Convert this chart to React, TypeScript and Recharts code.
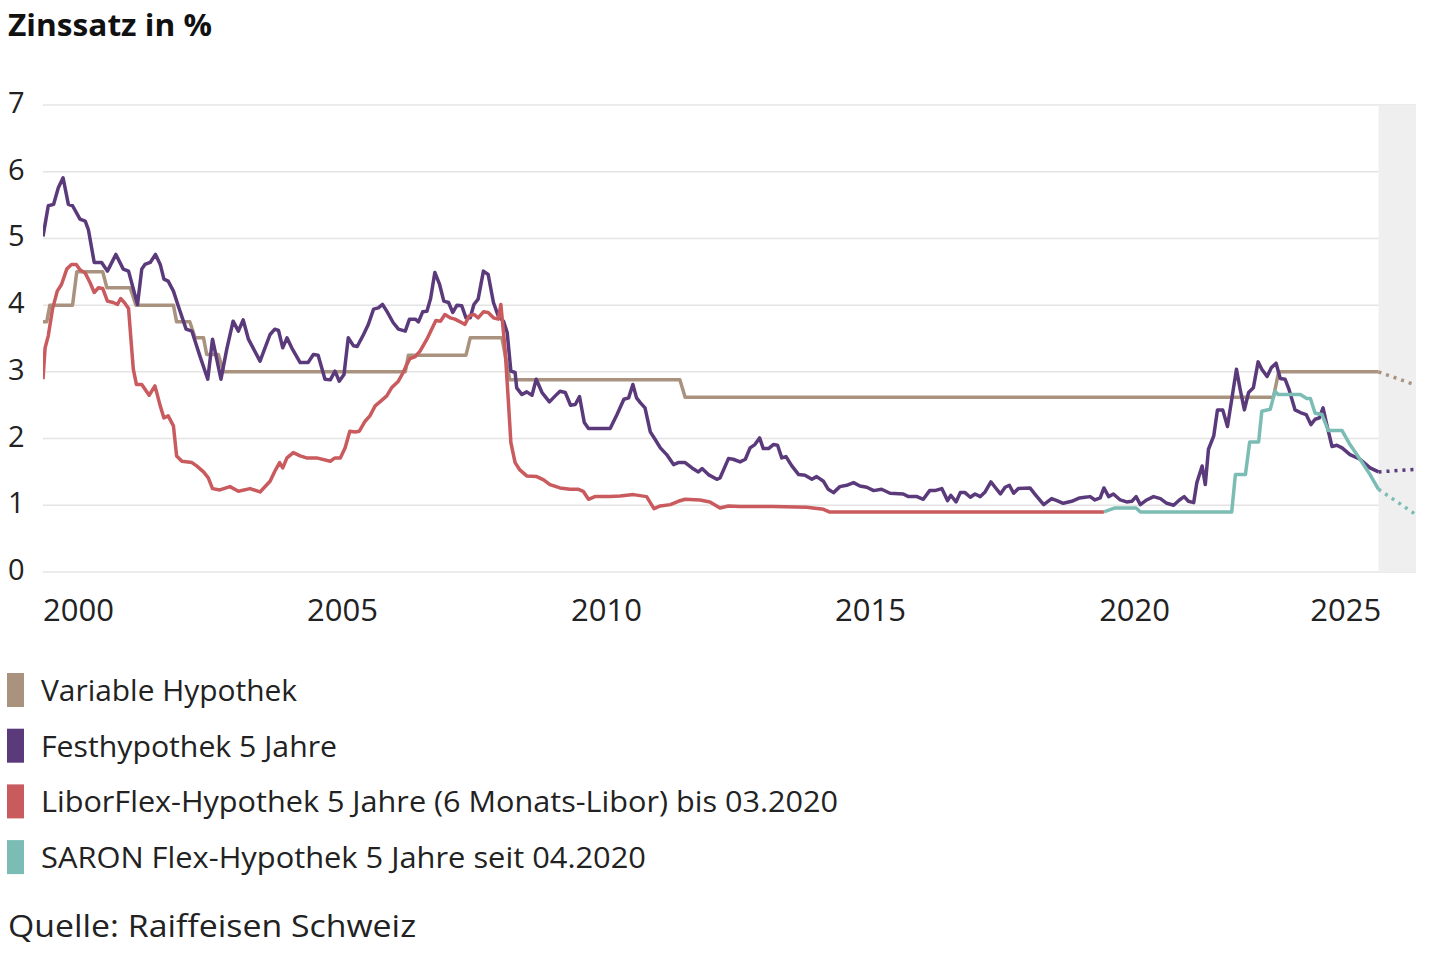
import React from 'react';
import { LineChart, Line, XAxis, YAxis, CartesianGrid, ReferenceArea } from 'recharts';

// [decimal year, rate in %]
const variableHypothek: [number, number][] = [
  [2000.0, 3.75], [2000.07, 3.75], [2000.13, 4.0], [2000.56, 4.0], [2000.64, 4.5], [2001.13, 4.5],
  [2001.21, 4.26], [2001.65, 4.26], [2001.76, 4.0], [2002.47, 4.0], [2002.53, 3.75], [2002.78, 3.75],
  [2002.88, 3.51], [2003.04, 3.51], [2003.1, 3.26], [2003.32, 3.26], [2003.42, 3.0], [2006.86, 3.0],
  [2006.92, 3.25], [2008.01, 3.25], [2008.09, 3.51], [2008.69, 3.51], [2008.84, 2.88], [2012.06, 2.88],
  [2012.16, 2.62], [2023.3, 2.62], [2023.4, 3.0], [2025.29, 3.0],
];
const variableForecast: [number, number][] = [[2025.29, 3.0], [2026.0, 2.8]];

const festhypothek: [number, number][] = [
  [2000.0, 5.03], [2000.1, 5.49], [2000.2, 5.51], [2000.29, 5.76], [2000.38, 5.91], [2000.48, 5.51],
  [2000.56, 5.49], [2000.7, 5.29], [2000.8, 5.26], [2000.86, 5.13], [2000.97, 4.64], [2001.11, 4.64],
  [2001.22, 4.51], [2001.38, 4.76], [2001.52, 4.54], [2001.62, 4.51], [2001.79, 4.01], [2001.87, 4.54],
  [2001.93, 4.61], [2002.03, 4.64], [2002.13, 4.76], [2002.22, 4.61], [2002.29, 4.39], [2002.37, 4.36],
  [2002.47, 4.21], [2002.56, 3.99], [2002.71, 3.64], [2002.82, 3.61], [2002.97, 3.24], [2003.12, 2.89],
  [2003.21, 3.49], [2003.37, 2.89], [2003.48, 3.34], [2003.6, 3.76], [2003.7, 3.61], [2003.79, 3.78],
  [2003.89, 3.49], [2004.11, 3.16], [2004.3, 3.56], [2004.39, 3.64], [2004.46, 3.62], [2004.54, 3.36],
  [2004.62, 3.51], [2004.71, 3.36], [2004.87, 3.14], [2005.02, 3.14], [2005.12, 3.26], [2005.21, 3.25],
  [2005.34, 2.89], [2005.44, 2.88], [2005.53, 3.01], [2005.61, 2.86], [2005.7, 2.96], [2005.78, 3.51],
  [2005.88, 3.39], [2005.95, 3.38], [2006.07, 3.56], [2006.16, 3.71], [2006.26, 3.94], [2006.35, 3.96],
  [2006.43, 4.01], [2006.51, 3.91], [2006.63, 3.74], [2006.73, 3.64], [2006.86, 3.61], [2006.94, 3.79],
  [2007.05, 3.79], [2007.11, 3.75], [2007.19, 3.9], [2007.27, 3.91], [2007.34, 4.1], [2007.42, 4.49],
  [2007.51, 4.31], [2007.59, 4.06], [2007.68, 4.04], [2007.76, 3.89], [2007.84, 4.0], [2007.93, 3.99],
  [2008.01, 3.81], [2008.09, 3.81], [2008.16, 4.01], [2008.24, 4.09], [2008.34, 4.51], [2008.43, 4.46],
  [2008.53, 4.04], [2008.62, 3.84], [2008.72, 3.76], [2008.79, 3.59], [2008.86, 3.01], [2008.94, 2.99],
  [2008.97, 2.76], [2009.07, 2.66], [2009.16, 2.7], [2009.26, 2.65], [2009.34, 2.89], [2009.45, 2.69],
  [2009.59, 2.55], [2009.7, 2.64], [2009.79, 2.71], [2009.89, 2.69], [2009.99, 2.5], [2010.08, 2.51],
  [2010.16, 2.63], [2010.25, 2.24], [2010.33, 2.15], [2010.74, 2.15], [2010.87, 2.36], [2011.0, 2.59],
  [2011.09, 2.61], [2011.17, 2.81], [2011.24, 2.61], [2011.31, 2.54], [2011.4, 2.46], [2011.5, 2.1],
  [2011.59, 1.99], [2011.69, 1.86], [2011.81, 1.76], [2011.94, 1.61], [2012.03, 1.64], [2012.16, 1.64],
  [2012.29, 1.56], [2012.41, 1.5], [2012.48, 1.55], [2012.6, 1.46], [2012.76, 1.39], [2012.82, 1.41],
  [2012.98, 1.7], [2013.07, 1.69], [2013.2, 1.65], [2013.3, 1.69], [2013.39, 1.86], [2013.48, 1.91],
  [2013.57, 2.01], [2013.64, 1.85], [2013.74, 1.85], [2013.83, 1.91], [2013.91, 1.9], [2013.99, 1.71],
  [2014.07, 1.73], [2014.18, 1.59], [2014.31, 1.46], [2014.43, 1.45], [2014.56, 1.39], [2014.65, 1.43],
  [2014.78, 1.36], [2014.87, 1.24], [2014.97, 1.19], [2015.09, 1.28], [2015.22, 1.3], [2015.35, 1.34],
  [2015.47, 1.29], [2015.6, 1.27], [2015.73, 1.22], [2015.88, 1.24], [2016.04, 1.18], [2016.29, 1.17],
  [2016.39, 1.13], [2016.55, 1.13], [2016.67, 1.09], [2016.79, 1.22], [2016.89, 1.22], [2017.02, 1.25],
  [2017.13, 1.07], [2017.19, 1.15], [2017.29, 1.05], [2017.37, 1.19], [2017.46, 1.19], [2017.56, 1.12],
  [2017.65, 1.17], [2017.75, 1.13], [2017.84, 1.2], [2017.95, 1.35], [2018.03, 1.27], [2018.13, 1.17],
  [2018.22, 1.27], [2018.3, 1.3], [2018.38, 1.18], [2018.47, 1.25], [2018.69, 1.26], [2018.79, 1.16],
  [2018.95, 1.01], [2019.1, 1.1], [2019.2, 1.07], [2019.32, 1.03], [2019.48, 1.06], [2019.63, 1.11],
  [2019.73, 1.12], [2019.83, 1.13], [2019.92, 1.08], [2020.02, 1.11], [2020.09, 1.26], [2020.18, 1.13],
  [2020.27, 1.17], [2020.4, 1.08], [2020.52, 1.05], [2020.62, 1.06], [2020.7, 1.13], [2020.78, 1.01],
  [2020.9, 1.08], [2021.03, 1.13], [2021.16, 1.1], [2021.28, 1.03], [2021.41, 1.0], [2021.52, 1.08],
  [2021.61, 1.13], [2021.69, 1.06], [2021.79, 1.04], [2021.85, 1.34], [2021.95, 1.59], [2022.01, 1.31],
  [2022.07, 1.84], [2022.17, 2.04], [2022.24, 2.43], [2022.34, 2.43], [2022.43, 2.18], [2022.6, 3.04],
  [2022.67, 2.74], [2022.75, 2.43], [2022.83, 2.69], [2022.92, 2.76], [2023.01, 3.15], [2023.08, 3.04],
  [2023.18, 2.93], [2023.26, 3.06], [2023.35, 3.13], [2023.43, 2.9], [2023.52, 2.89], [2023.59, 2.75],
  [2023.65, 2.59], [2023.71, 2.43], [2023.81, 2.39], [2023.92, 2.36], [2024.01, 2.21], [2024.09, 2.29],
  [2024.17, 2.31], [2024.24, 2.46], [2024.31, 2.21], [2024.41, 1.88], [2024.5, 1.9], [2024.6, 1.86],
  [2024.75, 1.76], [2024.94, 1.69], [2025.13, 1.56], [2025.29, 1.5],
];
const festForecast: [number, number][] = [[2025.29, 1.5], [2026.0, 1.54]];

const liborFlex: [number, number][] = [
  [2000.0, 2.89], [2000.04, 3.36], [2000.1, 3.54], [2000.18, 3.94], [2000.27, 4.21], [2000.35, 4.31],
  [2000.45, 4.54], [2000.54, 4.61], [2000.63, 4.61], [2000.7, 4.53], [2000.8, 4.48], [2000.89, 4.34],
  [2000.97, 4.19], [2001.05, 4.26], [2001.13, 4.25], [2001.22, 4.06], [2001.33, 4.04], [2001.41, 4.01],
  [2001.47, 4.1], [2001.55, 4.03], [2001.62, 3.95], [2001.68, 3.34], [2001.71, 3.04], [2001.77, 2.81],
  [2001.87, 2.81], [2002.01, 2.65], [2002.12, 2.79], [2002.22, 2.49], [2002.29, 2.31], [2002.37, 2.34],
  [2002.47, 2.19], [2002.53, 1.74], [2002.63, 1.66], [2002.82, 1.64], [2002.91, 1.59], [2003.04, 1.5],
  [2003.13, 1.41], [2003.21, 1.25], [2003.35, 1.23], [2003.54, 1.28], [2003.7, 1.21], [2003.92, 1.25],
  [2004.11, 1.2], [2004.3, 1.36], [2004.39, 1.51], [2004.48, 1.64], [2004.54, 1.56], [2004.62, 1.71],
  [2004.74, 1.79], [2004.87, 1.74], [2004.99, 1.71], [2005.18, 1.71], [2005.44, 1.66], [2005.53, 1.71],
  [2005.63, 1.71], [2005.72, 1.86], [2005.81, 2.11], [2005.91, 2.1], [2005.99, 2.11], [2006.1, 2.26],
  [2006.19, 2.34], [2006.29, 2.49], [2006.38, 2.55], [2006.51, 2.64], [2006.6, 2.76], [2006.73, 2.86],
  [2006.82, 2.99], [2006.89, 3.11], [2006.95, 3.2], [2007.05, 3.23], [2007.14, 3.31], [2007.27, 3.49],
  [2007.36, 3.64], [2007.44, 3.77], [2007.53, 3.76], [2007.61, 3.86], [2007.71, 3.81], [2007.8, 3.79],
  [2007.9, 3.75], [2007.99, 3.71], [2008.07, 3.84], [2008.16, 3.86], [2008.24, 3.81], [2008.34, 3.9],
  [2008.43, 3.89], [2008.53, 3.81], [2008.62, 3.79], [2008.67, 4.01], [2008.75, 3.34], [2008.81, 2.59],
  [2008.86, 1.94], [2008.94, 1.64], [2009.03, 1.53], [2009.16, 1.44], [2009.35, 1.43], [2009.48, 1.38],
  [2009.6, 1.31], [2009.79, 1.26], [2009.98, 1.24], [2010.14, 1.24], [2010.23, 1.21], [2010.33, 1.09],
  [2010.45, 1.13], [2010.74, 1.13], [2010.93, 1.14], [2011.18, 1.16], [2011.43, 1.13], [2011.57, 0.95],
  [2011.69, 0.99], [2011.88, 1.01], [2012.03, 1.06], [2012.16, 1.09], [2012.44, 1.08], [2012.63, 1.05],
  [2012.82, 0.96], [2012.98, 0.99], [2013.2, 0.98], [2013.83, 0.98], [2014.46, 0.97], [2014.78, 0.94],
  [2014.89, 0.9], [2020.09, 0.9],
];

const saronFlex: [number, number][] = [
  [2020.09, 0.9], [2020.3, 0.96], [2020.7, 0.96], [2020.78, 0.9], [2022.51, 0.9], [2022.58, 1.46],
  [2022.77, 1.46], [2022.85, 1.95], [2023.02, 1.95], [2023.08, 2.41], [2023.24, 2.44], [2023.33, 2.71],
  [2023.39, 2.66], [2023.81, 2.66], [2023.93, 2.6], [2024.0, 2.6], [2024.09, 2.38], [2024.22, 2.36],
  [2024.34, 2.12], [2024.6, 2.12], [2024.75, 1.91], [2024.94, 1.69], [2025.13, 1.46], [2025.29, 1.24],
];
const saronForecast: [number, number][] = [[2025.29, 1.24], [2026.0, 0.86]];

const xTicks = [2000, 2005, 2010, 2015, 2020, 2025];
const yTicks = [0, 1, 2, 3, 4, 5, 6, 7];
const forecastRange: [number, number] = [2025.29, 2026];

const legendLabels = [
  'Variable Hypothek',
  'Festhypothek 5 Jahre',
  'LiborFlex-Hypothek 5 Jahre (6 Monats-Libor) bis 03.2020',
  'SARON Flex-Hypothek 5 Jahre seit 04.2020',
];
const legendWidths = [256, 296, 797, 605];
const titleText = 'Zinssatz in %';
const sourceText = 'Quelle: Raiffeisen Schweiz';

const COLORS = ['#a9937e', '#5b3a7c', '#c95a5e', '#7bbdb4'];
const FONT = '"Open Sans", "Noto Sans", sans-serif';
const TEXT = '#222222';

const toRows = (s: [number, number][]) => s.map(([t, v]) => ({ t, v }));

const XTick = (props: any) => {
  const { x, payload } = props;
  const last = payload.value === xTicks[xTicks.length - 1];
  return (
    <text x={last ? x + 18 : x} y={621} textAnchor={last ? 'end' : 'start'} fontSize={31} fill={TEXT} fontFamily={FONT}>
      {payload.value}
    </text>
  );
};

const YTick = (props: any) => {
  const { y, payload } = props;
  return (
    <text x={8} y={y + 8} textAnchor="start" fontSize={29} fill={TEXT} fontFamily={FONT}>
      {payload.value}
    </text>
  );
};

export default function App() {
  const series = [
    { key: 'var', data: toRows(variableHypothek), color: COLORS[0] },
    { key: 'fest', data: toRows(festhypothek), color: COLORS[1] },
    { key: 'libor', data: toRows(liborFlex), color: COLORS[2] },
    { key: 'saron', data: toRows(saronFlex), color: COLORS[3] },
  ];
  const forecasts = [
    { key: 'varF', data: toRows(variableForecast), color: COLORS[0] },
    { key: 'festF', data: toRows(festForecast), color: COLORS[1] },
    { key: 'saronF', data: toRows(saronForecast), color: COLORS[3] },
  ];
  return (
    <div style={{ position: 'absolute', left: 0, top: 0, width: 1440, height: 956, background: '#fff', fontFamily: FONT }}>
      <svg style={{ position: 'absolute', left: 0, top: 0 }} width={1440} height={956}>
        <text x={8} y={36} fontSize={30} fontWeight={700} fill="#111" fontFamily={FONT} textLength={204} lengthAdjust="spacingAndGlyphs">
          {titleText}
        </text>
        {legendLabels.map((label, i) => {
          const base = 701 + i * 55.7;
          return (
            <g key={label}>
              <rect x={7} y={base - 28} width={17} height={34} fill={COLORS[i]} />
              <text x={41} y={base} fontSize={30} fill={TEXT} fontFamily={FONT} textLength={legendWidths[i]} lengthAdjust="spacingAndGlyphs">
                {label}
              </text>
            </g>
          );
        })}
        <text x={8} y={937} fontSize={31} fill={TEXT} fontFamily={FONT} textLength={408} lengthAdjust="spacingAndGlyphs">
          {sourceText}
        </text>
      </svg>
      <div style={{ position: 'absolute', left: 0, top: 0 }}>
        <LineChart width={1440} height={640} margin={{ top: 105, right: 24, left: 0, bottom: 18 }}>
          <ReferenceArea x1={forecastRange[0]} x2={forecastRange[1]} y1={0} y2={7} fill="#efefef" fillOpacity={1} stroke="none" ifOverflow="hidden" />
          <CartesianGrid vertical={false} stroke="#e4e4e4" strokeWidth={1.5} />
          <XAxis
            type="number"
            dataKey="t"
            domain={[2000, 2026]}
            ticks={xTicks}
            allowDataOverflow
            axisLine={false}
            tickLine={false}
            height={50}
            tick={<XTick />}
            interval={0}
          />
          <YAxis
            type="number"
            domain={[0, 7]}
            ticks={yTicks}
            axisLine={false}
            tickLine={false}
            width={43}
            tick={<YTick />}
            interval={0}
          />
          {series.map((s) => (
            <Line
              key={s.key}
              data={s.data}
              dataKey="v"
              type="linear"
              stroke={s.color}
              strokeWidth={3.5}
              dot={false}
              activeDot={false}
              isAnimationActive={false}
              strokeLinejoin="round"
            />
          ))}
          {forecasts.map((s) => (
            <Line
              key={s.key}
              data={s.data}
              dataKey="v"
              type="linear"
              stroke={s.color}
              strokeWidth={3.5}
              strokeDasharray="3 5"
              dot={false}
              activeDot={false}
              isAnimationActive={false}
            />
          ))}
        </LineChart>
      </div>
    </div>
  );
}
